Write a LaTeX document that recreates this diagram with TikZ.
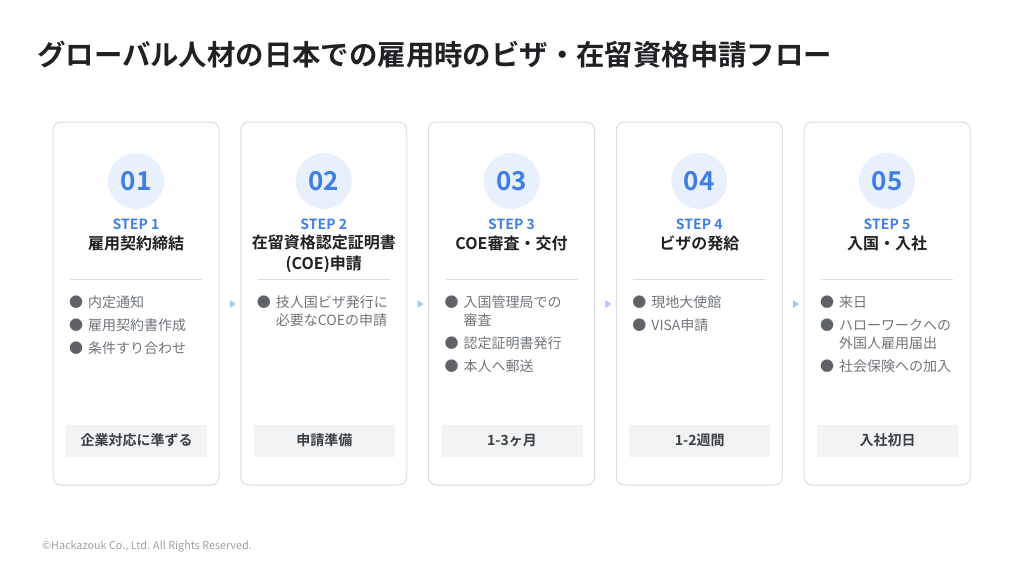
\documentclass[tikz,border=0pt]{standalone}
\usepackage{fontspec}
\setmainfont{Noto Sans CJK JP}[BoldFont={Noto Sans CJK JP Bold}]
\usetikzlibrary{positioning,shapes.geometric}

\definecolor{stepblue}{HTML}{3F7FE3}
\definecolor{circblue}{HTML}{E8F0FE}
\definecolor{tipblue}{HTML}{A8C7FA}
\definecolor{framegray}{HTML}{DADCE0}
\definecolor{itemgray}{HTML}{70757A}
\definecolor{dotgray}{HTML}{5F6368}
\definecolor{taggray}{HTML}{F1F3F4}
\definecolor{tagtext}{HTML}{3C4043}
\definecolor{titleblack}{HTML}{202124}
\definecolor{footgray}{HTML}{9AA0A6}

\newcommand{\bul}{\textcolor{dotgray}{●}\hspace{5pt}}
\newcommand{\hang}{\hphantom{●}\hspace{5pt}}

\begin{document}
\begin{tikzpicture}[x=1pt,y=-1pt,
   card/.style={draw=framegray, line width=1pt, rounded corners=8pt, minimum width=166pt, minimum height=363pt, inner sep=0pt},
   numcirc/.style={circle, fill=circblue, minimum size=56pt, inner sep=0pt, text=stepblue, font=\fontsize{26}{26}\selectfont\bfseries},
   steplabel/.style={text=stepblue, font=\fontsize{14}{14}\selectfont\bfseries, inner sep=0pt},
   steptitle/.style={text=titleblack, font=\fontsize{16}{21}\selectfont\bfseries, align=center, inner sep=0pt},
   item/.style={anchor=base west, text=itemgray, font=\fontsize{14}{18}\selectfont, align=left, inner sep=0pt},
   tag/.style={fill=taggray, minimum width=141pt, minimum height=32pt, inner sep=0pt, text=tagtext, font=\fontsize{14}{14}\selectfont\bfseries},
   tip/.style={isosceles triangle, isosceles triangle stretches, fill=tipblue, minimum height=6pt, minimum width=8pt, inner sep=0pt}]
   \useasboundingbox (0,0) rectangle (1024,576);

   % heading and footer
   \node[anchor=west, inner sep=0pt, text=titleblack, font=\fontsize{28.4}{28.4}\selectfont\bfseries] (title) at (37,55) {グローバル人材の日本での雇用時のビザ・在留資格申請フロー};
   \node[anchor=west, inner sep=0pt, text=footgray, font=\fontsize{10.8}{10.8}\selectfont] (footer) at (42,547) {©Hackazouk Co., Ltd. All Rights Reserved.};

   % frames of the five steps
   \foreach \i/\cx in {1/136,2/323.75,3/511.5,4/699.25,5/887}{
      \node[card] (card\i) at (\cx,303.5) {};
      \node[numcirc] (num\i) at (\cx,181) {0\i};
      \node[steplabel] (step\i) at (\cx,224) {STEP \i};
      \draw[framegray, line width=0.8pt] (\cx-66,279) -- (\cx+66,279);
   }
   \foreach \i/\cx in {1/136,2/323.75,3/511.5,4/699.25}{
      \node[tip] (tip\i) at (\cx+96,304) {};
   }

   % titles
   \node[steptitle] (head1) at (136,243) {雇用契約締結};
   \node[steptitle] (head2) at (323.75,254) {在留資格認定証明書\\(COE)申請};
   \node[steptitle] (head3) at (511.5,243) {COE審査・交付};
   \node[steptitle] (head4) at (699.25,243) {ビザの発給};
   \node[steptitle] (head5) at (887,243) {入国・入社};

   % items (two-line items sit on their last baseline)
   \node[item] (it11) at (69,307) {\bul 内定通知};
   \node[item] (it12) at (69,330) {\bul 雇用契約書作成};
   \node[item] (it13) at (69,353) {\bul 条件すり合わせ};
   \node[item] (it21) at (256.75,325) {\bul 技人国ビザ発行に\\\hang 必要なCOEの申請};
   \node[item] (it31) at (444.5,325) {\bul 入国管理局での\\\hang 審査};
   \node[item] (it32) at (444.5,348) {\bul 認定証明書発行};
   \node[item] (it33) at (444.5,371) {\bul 本人へ郵送};
   \node[item] (it41) at (632.25,307) {\bul 現地大使館};
   \node[item] (it42) at (632.25,330) {\bul VISA申請};
   \node[item] (it51) at (820,307) {\bul 来日};
   \node[item] (it52) at (820,348) {\bul ハローワークへの\\\hang 外国人雇用届出};
   \node[item] (it53) at (820,371) {\bul 社会保険への加入};

   % time tags
   \node[tag] (tag1) at (136.5,440.5) {企業対応に準ずる};
   \node[tag] (tag2) at (324.25,440.5) {申請準備};
   \node[tag] (tag3) at (512,440.5) {1-3ヶ月};
   \node[tag] (tag4) at (699.75,440.5) {1-2週間};
   \node[tag] (tag5) at (887.5,440.5) {入社初日};
\end{tikzpicture}
\end{document}
